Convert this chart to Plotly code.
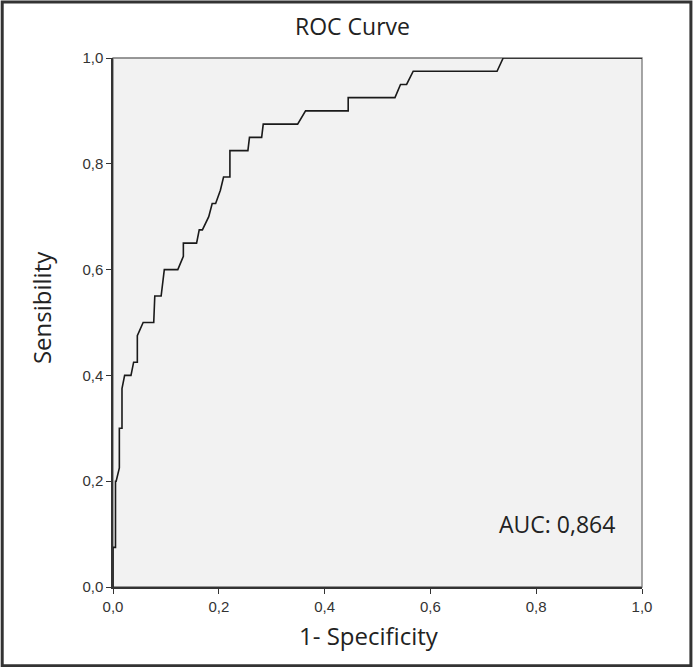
import plotly.graph_objects as go

# ROC curve points (1-specificity, sensitivity)
fpr = [0.0, 0.0, 0.0047, 0.0047, 0.006, 0.012, 0.012, 0.017, 0.017, 0.022, 0.034, 0.039,
       0.046, 0.046, 0.057, 0.077, 0.079, 0.091, 0.097, 0.1225, 0.133, 0.133, 0.158,
       0.163, 0.169, 0.181, 0.1875, 0.194, 0.203, 0.209, 0.221, 0.221, 0.255, 0.258,
       0.281, 0.284, 0.349, 0.364, 0.4446, 0.4446, 0.533, 0.5435, 0.555, 0.5675,
       0.726, 0.7376, 1.0]
tpr = [0.0, 0.075, 0.075, 0.2, 0.2, 0.225, 0.3, 0.3, 0.375, 0.4, 0.4, 0.425,
       0.425, 0.475, 0.5, 0.5, 0.55, 0.55, 0.6, 0.6, 0.625, 0.65, 0.65,
       0.675, 0.675, 0.7, 0.725, 0.725, 0.75, 0.775, 0.775, 0.825, 0.825, 0.85,
       0.85, 0.875, 0.875, 0.9, 0.9, 0.925, 0.925, 0.95, 0.95, 0.975,
       0.975, 1.0, 1.0]

tick_vals = [0.0, 0.2, 0.4, 0.6, 0.8, 1.0]
tick_text = ["0,0", "0,2", "0,4", "0,6", "0,8", "1,0"]
auc_label = "AUC: 0,864"

W, H = 693, 667
L, R, T, B = 112.5, 50.5, 57.5, 80.3
pw, ph = W - L - R, H - T - B


def px_x(p):
    return (p - L) / pw


def px_y(p):
    return (H - B - p) / ph


fig = go.Figure()
fig.add_trace(go.Scatter(x=fpr, y=tpr, mode="lines",
                         line=dict(color="#1a1a1a", width=1.6),
                         cliponaxis=False, hoverinfo="skip", showlegend=False))

axis_common = dict(range=[0, 1], tickvals=tick_vals, ticktext=tick_text,
                   showgrid=False, zeroline=False, ticks="outside", ticklen=5,
                   tickcolor="#333", tickwidth=1.3, showline=True, linecolor="#333",
                   linewidth=1.5, mirror=False,
                   tickfont=dict(family="Liberation Sans", size=15, color="#333"))

fig.update_layout(
    width=W, height=H,
    margin=dict(l=L, r=R, t=T, b=B, autoexpand=False),
    paper_bgcolor="white", plot_bgcolor="#f2f2f2",
    xaxis=dict(**axis_common),
    yaxis=dict(**axis_common),
    showlegend=False,
)

title_font = dict(family="Open Sans", color="#222")
fig.add_annotation(xref="paper", yref="paper", x=px_x(352), y=px_y(25), text="ROC Curve",
                   showarrow=False, xanchor="center", yanchor="middle",
                   font=dict(**title_font, size=23))
fig.add_annotation(xref="paper", yref="paper", x=px_x(369), y=px_y(635), text="1- Specificity",
                   showarrow=False, xanchor="center", yanchor="middle",
                   font=dict(**title_font, size=24))
fig.add_annotation(xref="paper", yref="paper", x=px_x(41), y=px_y(307), text="Sensibility",
                   showarrow=False, xanchor="center", yanchor="middle", textangle=-90,
                   font=dict(**title_font, size=24))

# plot frame (top/right in gray)
fig.add_shape(type="rect", xref="x domain", yref="y domain", x0=0, x1=1, y0=0, y1=1,
              line=dict(color="#777", width=1.3), layer="below")
# outer border around whole picture
fig.add_shape(type="rect", xref="paper", yref="paper",
              x0=px_x(1.5), x1=px_x(W - 1.5),
              y0=px_y(H - 1.5), y1=px_y(1.5),
              line=dict(color="#333", width=3))

fig.add_annotation(x=0.84, y=0.12, xref="x", yref="y", text=auc_label, showarrow=False,
                   font=dict(family="Open Sans", size=23, color="#222"))

fig.write_html("out.html", config={"displayModeBar": False},
               post_script="document.body.style.margin='0';document.body.style.overflow='hidden';")
